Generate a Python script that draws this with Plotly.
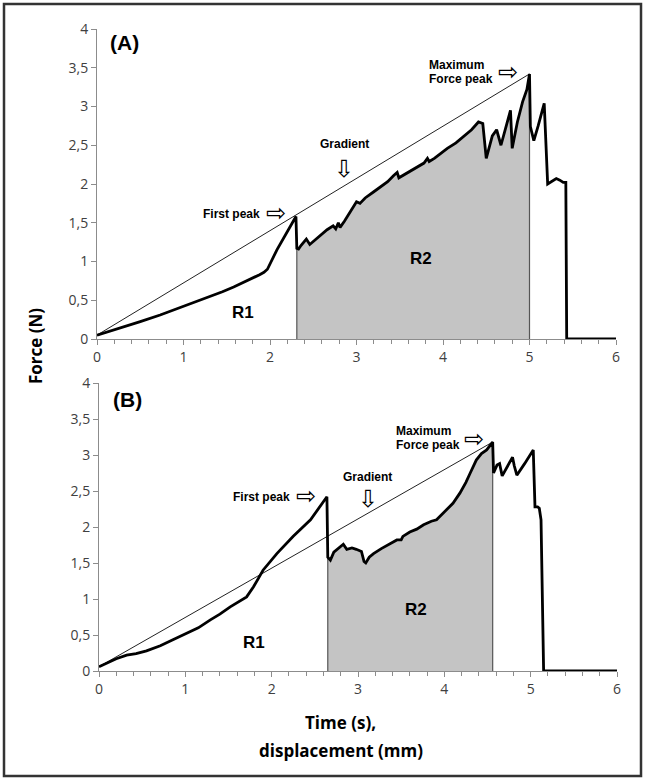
import plotly.graph_objects as go

# ---------------- data ----------------
curve_A = [(0, 0.05), (0.1, 0.083), (0.2, 0.118), (0.34, 0.167), (0.5, 0.225), (0.73, 0.31), (1.0, 0.42),
           (1.15, 0.48), (1.31, 0.55), (1.45, 0.61), (1.58, 0.67), (1.7, 0.73), (1.81, 0.79), (1.88, 0.83),
           (1.93, 0.86), (1.97, 0.90), (2.08, 1.15), (2.23, 1.45), (2.30, 1.58), (2.31, 1.17), (2.33, 1.16),
           (2.36, 1.21), (2.42, 1.29), (2.46, 1.22), (2.53, 1.29), (2.6, 1.35), (2.66, 1.41), (2.73, 1.46),
           (2.76, 1.42), (2.79, 1.50), (2.81, 1.44), (2.86, 1.52), (2.93, 1.65), (3.0, 1.77), (3.04, 1.75),
           (3.1, 1.82), (3.2, 1.90), (3.28, 1.96), (3.36, 2.03), (3.43, 2.11), (3.47, 2.15), (3.49, 2.08),
           (3.52, 2.10), (3.6, 2.15), (3.70, 2.22), (3.78, 2.27), (3.82, 2.33), (3.84, 2.29), (3.9, 2.33),
           (4.05, 2.46), (4.15, 2.53), (4.24, 2.61), (4.33, 2.70), (4.41, 2.80), (4.46, 2.78), (4.50, 2.33),
           (4.57, 2.62), (4.62, 2.70), (4.67, 2.50), (4.78, 2.95), (4.80, 2.46), (4.86, 2.80), (4.92, 3.06),
           (4.97, 3.22), (5.00, 3.42), (5.01, 2.74), (5.05, 2.56), (5.10, 2.75), (5.17, 3.04), (5.21, 2.00),
           (5.26, 2.03), (5.31, 2.07), (5.35, 2.05), (5.39, 2.02), (5.42, 2.02), (5.43, 0.0), (5.6, 0.0),
           (6.0, 0.0)]

curve_B = [(0, 0.06), (0.1, 0.12), (0.2, 0.17), (0.32, 0.22), (0.43, 0.24), (0.55, 0.28), (0.71, 0.35),
           (0.85, 0.43), (1.02, 0.52), (1.15, 0.60), (1.29, 0.71), (1.40, 0.79), (1.52, 0.89), (1.62, 0.96),
           (1.71, 1.03), (1.79, 1.17), (1.90, 1.40), (2.06, 1.63), (2.25, 1.87), (2.45, 2.10), (2.55, 2.26),
           (2.64, 2.42), (2.65, 1.58), (2.68, 1.54), (2.72, 1.65), (2.75, 1.68), (2.80, 1.72), (2.83, 1.76),
           (2.87, 1.69), (2.93, 1.71), (2.98, 1.69), (3.04, 1.66), (3.07, 1.52), (3.09, 1.50), (3.13, 1.58),
           (3.18, 1.63), (3.27, 1.70), (3.37, 1.77), (3.45, 1.82), (3.50, 1.82), (3.52, 1.87), (3.60, 1.93),
           (3.68, 1.97), (3.76, 2.03), (3.85, 2.08), (3.91, 2.10), (4.03, 2.24), (4.10, 2.33), (4.18, 2.47),
           (4.25, 2.62), (4.30, 2.75), (4.37, 2.93), (4.43, 3.02), (4.49, 3.07), (4.56, 3.18), (4.57, 2.75),
           (4.61, 2.86), (4.64, 2.88), (4.67, 2.71), (4.73, 2.85), (4.79, 2.97), (4.81, 2.85), (4.84, 2.72),
           (4.93, 2.88), (5.03, 3.07), (5.05, 2.28), (5.08, 2.28), (5.10, 2.26), (5.12, 2.10), (5.15, 0.0),
           (5.5, 0.0), (6.0, 0.0)]

# R2 boundaries (start after first-peak drop, end at maximum force peak)
r2_A = (2.31, 5.00)
r2_B = (2.65, 4.56)

y_tickvals = [0, 0.5, 1, 1.5, 2, 2.5, 3, 3.5, 4]
y_ticktext = ["0", "0,5", "1", "1,5", "2", "2,5", "3", "3,5", "4"]
x_tickvals = [0, 1, 2, 3, 4, 5, 6]
x_ticktext = ["0", "1", "2", "3", "4", "5", "6"]

W, H = 646, 783
fig = go.Figure()

def px_x(p):
    return p / W

def px_y(p):
    return 1 - p / H

panels = [
    dict(curve=curve_A, r2=r2_A, xa="x", ya="y"),
    dict(curve=curve_B, r2=r2_B, xa="x2", ya="y2"),
]

for pnl in panels:
    xs = [p[0] for p in pnl["curve"]]
    ys = [p[1] for p in pnl["curve"]]
    a, b = pnl["r2"]
    fx = [x for x in xs if a <= x <= b]
    fy = [y for x, y in zip(xs, ys) if a <= x <= b]
    # R2 fill
    fig.add_trace(go.Scatter(x=fx, y=fy, mode="lines", fill="tozeroy", fillcolor="#c4c4c4",
                             line=dict(width=0), xaxis=pnl["xa"], yaxis=pnl["ya"], hoverinfo="skip"))
    # boundary lines
    fig.add_trace(go.Scatter(x=[fx[0], fx[0]], y=[0, fy[0]], mode="lines",
                             line=dict(color="#555555", width=1.2), xaxis=pnl["xa"], yaxis=pnl["ya"]))
    fig.add_trace(go.Scatter(x=[fx[-1], fx[-1]], y=[0, fy[-1]], mode="lines",
                             line=dict(color="#555555", width=1.2), xaxis=pnl["xa"], yaxis=pnl["ya"]))
    # gradient line
    fig.add_trace(go.Scatter(x=[xs[0], fx[-1]], y=[ys[0], fy[-1]], mode="lines",
                             line=dict(color="#222222", width=1), xaxis=pnl["xa"], yaxis=pnl["ya"]))
    # force curve
    fig.add_trace(go.Scatter(x=xs, y=ys, mode="lines", line=dict(color="black", width=2.8),
                             xaxis=pnl["xa"], yaxis=pnl["ya"]))

xdom = [px_x(97), px_x(616)]
axis_common = dict(showgrid=False, zeroline=False, showline=True, linecolor="#8c8c8c", linewidth=1,
                   ticks="outside", tickcolor="#8c8c8c", ticklen=5, automargin=False,
                   tickfont=dict(family="Open Sans", size=14, color="#404040"))

fig.update_layout(
    width=W, height=H, autosize=False, margin=dict(l=0, r=0, t=0, b=0, pad=0, autoexpand=False),
    showlegend=False, paper_bgcolor="white", plot_bgcolor="white",
    xaxis=dict(domain=xdom, anchor="y", range=[0, 6], tickvals=x_tickvals, ticktext=x_ticktext,
               minor=dict(dtick=0.2, ticks="outside", ticklen=4, tickcolor="#8c8c8c"), **axis_common),
    yaxis=dict(domain=[px_y(339), px_y(29)], anchor="x", range=[0, 4], tickvals=y_tickvals,
               ticktext=y_ticktext, **axis_common),
    xaxis2=dict(domain=[px_x(99), px_x(617)], anchor="y2", range=[0, 6], tickvals=x_tickvals,
                ticktext=x_ticktext,
                minor=dict(dtick=0.2, ticks="outside", ticklen=4, tickcolor="#8c8c8c"), **axis_common),
    yaxis2=dict(domain=[px_y(671), px_y(383)], anchor="x2", range=[0, 4], tickvals=y_tickvals,
                ticktext=y_ticktext, **axis_common),
)

# frame
fig.add_shape(type="rect", xref="paper", yref="paper", x0=px_x(4), x1=px_x(641), y0=px_y(776), y1=px_y(4),
              line=dict(color="#333333", width=2.5))

def ann(text, x, y, size=12, xanchor="center", yanchor="middle", family="Liberation Sans", angle=0, color="black"):
    fig.add_annotation(text=text, xref="paper", yref="paper", x=px_x(x), y=px_y(y), showarrow=False,
                       xanchor=xanchor, yanchor=yanchor, textangle=angle,
                       font=dict(family=family, size=size, color=color))

bold = lambda s: "<b>" + s + "</b>"

# Panel A annotations
ann(bold("(A)"), 108, 43, size=21, xanchor="left")
ann(bold("First peak"), 262, 214, xanchor="right")
ann("⇨", 276, 213, size=24, family="DejaVu Sans")
ann(bold("Gradient"), 344, 144)
ann("⇩", 344, 169, size=24, family="DejaVu Sans")
ann(bold("Maximum"), 427, 65, xanchor="left")
ann(bold("Force peak"), 427, 79, xanchor="left")
ann("⇨", 508, 72, size=24, family="DejaVu Sans")
ann(bold("R1"), 243, 312, size=17)
ann(bold("R2"), 421, 258, size=17)

# Panel B annotations
ann(bold("(B)"), 111, 399, size=21, xanchor="left")
ann(bold("First peak"), 292, 497, xanchor="right")
ann("⇨", 306, 496, size=24, family="DejaVu Sans")
ann(bold("Gradient"), 367, 477)
ann("⇩", 368, 499, size=24, family="DejaVu Sans")
ann(bold("Maximum"), 394, 431, xanchor="left")
ann(bold("Force peak"), 394, 445, xanchor="left")
ann("⇨", 474, 439, size=24, family="DejaVu Sans")
ann(bold("R1"), 254, 642, size=17)
ann(bold("R2"), 416, 609, size=17)

# axis titles
ann(bold("Force (N)"), 35, 346, size=17, family="Open Sans", angle=-90)
ann(bold("Time (s),"), 340, 722, size=17, family="Open Sans")
ann(bold("displacement (mm)"), 341, 750, size=17, family="Open Sans")

fig.write_html("out.html", config={"displayModeBar": False},
               post_script="document.body.style.margin='0';document.body.style.overflow='hidden';")
